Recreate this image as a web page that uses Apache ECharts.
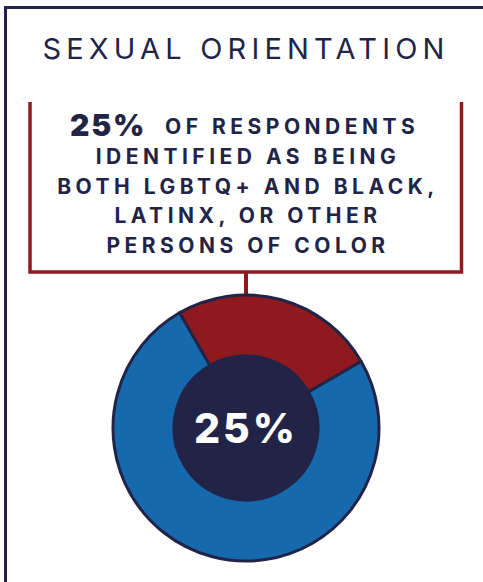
<!DOCTYPE html>
<html>
<head>
<meta charset="utf-8">
<script src="https://cdn.jsdelivr.net/npm/echarts@6/dist/echarts.min.js"></script>
<style>
  html, body { margin: 0; padding: 0; background: #ffffff; }
  #chart { width: 483px; height: 582px; }
  #chart text { letter-spacing: 4.5px; }
  #chart text[style*="29px"] { letter-spacing: 5.2px; }
  #chart text[style*="30px"] { letter-spacing: 1.8px; }
  #chart text[style*="41px"] { letter-spacing: 3px; }
</style>
</head>
<body>
<div id="chart"></div>
<script>
// ---- data ----
const titleText = 'SEXUAL ORIENTATION';
const categories = ['LGBTQ+ and Black, Latinx, or other persons of color', 'All other respondents'];
const values = [25, 75];
const calloutLines = ['OF RESPONDENTS', 'IDENTIFIED AS BEING', 'BOTH LGBTQ+ AND BLACK,', 'LATINX, OR OTHER', 'PERSONS OF COLOR'];

const NAVY = '#222447';
const RED = '#8e1a1f';
const BLUE = '#1769ae';
const FONT = 'Inter, "Open Sans", sans-serif';

const total = values.reduce((a, b) => a + b, 0);
const share = Math.round(values[0] / total * 100) + '%';

const chart = echarts.init(document.getElementById('chart'), null, { renderer: 'svg', width: 483, height: 582 });

const graphics = [
  // outer frame (left + top)
  { type: 'line', shape: { x1: 5.5, y1: 7.5, x2: 5.5, y2: 582 }, style: { stroke: NAVY, lineWidth: 3 } },
  { type: 'line', shape: { x1: 4, y1: 7.5, x2: 483, y2: 7.5 }, style: { stroke: NAVY, lineWidth: 3 } },
  // title
  { type: 'text', x: 246, y: 48, style: { text: titleText, font: '400 29px ' + FONT, fill: NAVY, align: 'center', verticalAlign: 'middle' } },
  // bracket
  { type: 'polyline', shape: { points: [[30, 102], [30, 272], [461.5, 272], [461.5, 102]] }, style: { stroke: RED, lineWidth: 3.5, fill: null } },
  { type: 'line', shape: { x1: 246, y1: 272, x2: 246, y2: 296 }, style: { stroke: RED, lineWidth: 4 } },
  // callout first line
  { type: 'text', x: 70, y: 125, style: { text: share, font: '900 30px ' + FONT, fill: NAVY, align: 'left', verticalAlign: 'middle' } },
  { type: 'text', x: 165, y: 126, style: { text: calloutLines[0], font: '700 21px ' + FONT, fill: NAVY, align: 'left', verticalAlign: 'middle' } }
];
const lineYs = [156, 186, 215, 245];
for (let i = 1; i < calloutLines.length; i++) {
  graphics.push({ type: 'text', x: 248, y: lineYs[i - 1], style: { text: calloutLines[i], font: '700 21px ' + FONT, fill: NAVY, align: 'center', verticalAlign: 'middle' } });
}

chart.setOption({
  animation: false,
  backgroundColor: '#ffffff',
  graphic: graphics,
  series: [
    {
      type: 'pie',
      center: [246, 428],
      radius: [72, 133],
      startAngle: 120,
      clockwise: true,
      silent: true,
      label: { show: false },
      labelLine: { show: false },
      itemStyle: { borderColor: NAVY, borderWidth: 3 },
      data: categories.map((c, i) => ({ name: c, value: values[i], itemStyle: { color: [RED, BLUE][i] } }))
    },
    {
      type: 'pie',
      center: [246, 428],
      radius: [0, 72],
      silent: true,
      labelLine: { show: false },
      label: {
        show: true,
        position: 'center',
        formatter: share,
        color: '#ffffff',
        fontSize: 41,
        fontWeight: 800,
        fontFamily: FONT
      },
      itemStyle: { color: NAVY, borderWidth: 0 },
      data: [{ name: 'center', value: 1 }]
    }
  ]
});
</script>
</body>
</html>
